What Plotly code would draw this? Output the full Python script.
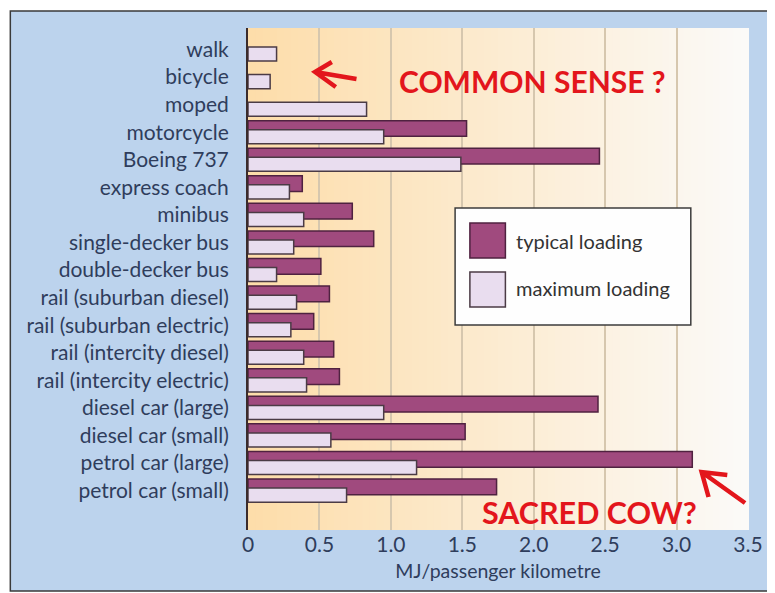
import plotly.graph_objects as go

categories = [
    "walk", "bicycle", "moped", "motorcycle", "Boeing 737", "express coach",
    "minibus", "single-decker bus", "double-decker bus", "rail (suburban diesel)",
    "rail (suburban electric)", "rail (intercity diesel)", "rail (intercity electric)",
    "diesel car (large)", "diesel car (small)", "petrol car (large)", "petrol car (small)",
]
typical_loading = [None, None, None, 1.53, 2.46, 0.38, 0.73, 0.88, 0.51, 0.57,
                   0.46, 0.60, 0.64, 2.45, 1.52, 3.11, 1.74]
maximum_loading = [0.20, 0.155, 0.83, 0.95, 1.49, 0.29, 0.39, 0.32, 0.20, 0.34,
                   0.30, 0.39, 0.41, 0.95, 0.58, 1.18, 0.69]
x_ticks = [0, 0.5, 1.0, 1.5, 2.0, 2.5, 3.0, 3.5]
x_tick_labels = ["0", "0.5", "1.0", "1.5", "2.0", "2.5", "3.0", "3.5"]
series_names = ["typical loading", "maximum loading"]

# page is shown with the default 8px body margin; work in page pixels
OFF = 8
PAGE_W, PAGE_H = 775, 593
W, H = PAGE_W - OFF, PAGE_H - OFF
L, R, T, B = 248, 755, 28, 530


def px(x):
    return (x - L) / (R - L)


def py(y):
    return (B - y) / (B - T)


FONT = "Lato, 'Open Sans', sans-serif"
DARK = "#a04a7e"
DARK_LINE = "#4f2240"
LIGHT = "#e9ddef"
LIGHT_LINE = "#4b3b45"
RED = "#e3161c"
TXT = "#2f3d5c"

fig = go.Figure()
fig.add_trace(go.Bar(
    y=categories, x=typical_loading, orientation="h", name=series_names[0],
    marker=dict(color=DARK, line=dict(color=DARK_LINE, width=1.5)),
    offset=-0.42, width=0.57, showlegend=False,
))
fig.add_trace(go.Bar(
    y=categories, x=maximum_loading, orientation="h", name=series_names[1],
    marker=dict(color=LIGHT, line=dict(color=LIGHT_LINE, width=1.5)),
    offset=-0.09, width=0.51, showlegend=False,
))

shapes = []
# outer light-blue panel with frame
shapes.append(dict(type="rect", xref="paper", yref="paper", layer="below",
                   x0=px(7), x1=px(785), y0=py(591), y1=py(11),
                   fillcolor="#bcd3ed", line=dict(color="#3a3a3a", width=1.5)))
# gradient plot background
n = 70
c0 = (253, 221, 170)
c1 = (251, 250, 248)
for i in range(n):
    t = i / (n - 1)
    c = tuple(round(c0[k] + (c1[k] - c0[k]) * t) for k in range(3))
    shapes.append(dict(type="rect", xref="paper", yref="paper", layer="below",
                       x0=i / n, x1=(i + 1) / n + 0.002, y0=0, y1=1,
                       fillcolor="rgb(%d,%d,%d)" % c, line=dict(width=0)))

# legend box
shapes.append(dict(type="rect", xref="paper", yref="paper", layer="above",
                   x0=px(458), x1=px(697), y0=py(325), y1=py(208),
                   fillcolor="#fefefe", line=dict(color="#3c3c3c", width=1.5)))
shapes.append(dict(type="rect", xref="paper", yref="paper", layer="above",
                   x0=px(473), x1=px(509), y0=py(258), y1=py(223),
                   fillcolor=DARK, line=dict(color=DARK_LINE, width=1.5)))
shapes.append(dict(type="rect", xref="paper", yref="paper", layer="above",
                   x0=px(473), x1=px(509), y0=py(307), y1=py(272),
                   fillcolor=LIGHT, line=dict(color=LIGHT_LINE, width=1.5)))


def arrow(tail, tip, a1, a2):
    p = "M %f,%f L %f,%f M %f,%f L %f,%f L %f,%f" % (
        px(tail[0]), py(tail[1]), px(tip[0]), py(tip[1]),
        px(a1[0]), py(a1[1]), px(tip[0]), py(tip[1]), px(a2[0]), py(a2[1]))
    return dict(type="path", xref="paper", yref="paper", layer="above", path=p,
                line=dict(color=RED, width=4.5))


shapes.append(arrow((358, 79), (316, 72), (333, 62), (337, 87)))
shapes.append(arrow((752, 503), (708, 472), (734, 475), (715, 497)))


def note(text, x, y, size, color, xanchor="center"):
    return dict(text=text, x=px(x), y=py(y), xref="paper", yref="paper",
                xanchor=xanchor, yanchor="middle", showarrow=False,
                font=dict(family=FONT, size=size, color=color))


annotations = [
    note("<b>COMMON SENSE ?</b>", 536, 81, 30, RED),
    note("<b>SACRED COW?</b>", 594, 512, 30.5, RED),
    note(series_names[0], 518, 241, 20, "#333333", "left"),
    note(series_names[1], 518, 288, 20, "#333333", "left"),
]

fig.update_layout(
    width=W, height=H,
    margin=dict(l=L - OFF, r=PAGE_W - R, t=T - OFF, b=PAGE_H - B, pad=0),
    paper_bgcolor="white", plot_bgcolor="rgba(0,0,0,0)",
    barmode="overlay", showlegend=False,
    shapes=shapes, annotations=annotations,
    font=dict(family=FONT, color=TXT),
    xaxis=dict(range=[0, 3.5], tickvals=x_ticks, ticktext=x_tick_labels,
               showgrid=True, gridcolor="#d6c7ae", gridwidth=1.5,
               zeroline=False, showline=False, ticks="",
               tickfont=dict(family=FONT, size=21, color=TXT),
               title=dict(text="MJ/passenger kilometre", standoff=9,
                          font=dict(family=FONT, size=19.5, color=TXT))),
    yaxis=dict(categoryorder="array", categoryarray=categories,
               range=[17.43, -0.78], showgrid=False, zeroline=False,
               showline=True, linecolor="#3b2b2b", linewidth=2,
               ticks="outside", ticklen=13, tickcolor="rgba(0,0,0,0)",
               tickfont=dict(family=FONT, size=21, color=TXT)),
)

fig.write_html("out.html")
